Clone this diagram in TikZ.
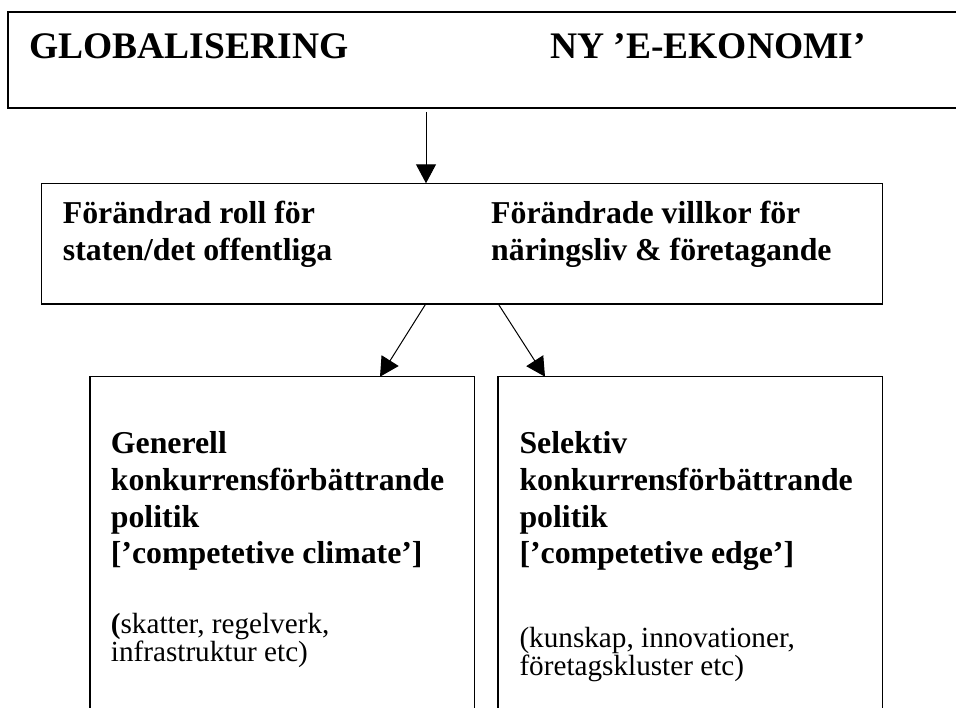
\documentclass[tikz,border=0pt]{standalone}
\usepackage{fontspec}
\setmainfont{Liberation Serif}
\usetikzlibrary{arrows.meta}
\tikzset{
  box/.style={draw=black, line width=1.1pt, rectangle, inner sep=0pt, outer sep=0pt, anchor=north west},
  arr/.style={draw=black, line width=1pt, -{Triangle[length=19pt,width=20pt]}},
  big/.style={anchor=base west, inner sep=0pt, font=\fontsize{37.5}{40}\selectfont\bfseries},
  mid/.style={anchor=base west, inner sep=0pt, font=\fontsize{31.8}{36}\selectfont\bfseries},
  reg/.style={anchor=base west, inner sep=0pt, font=\fontsize{29.2}{30}\selectfont},
}
\begin{document}
\begin{tikzpicture}[x=1pt,y=-1pt]
\useasboundingbox (0,0) rectangle (956,708);
\fill[white] (0,0) rectangle (956,708);
\clip (0,0) rectangle (956,708);
% boxes
\node[box, minimum width=972pt, minimum height=96pt] (top) at (8,12) {};
\node[box, minimum width=841pt, minimum height=120.7pt] (midbox) at (41.7,183.3) {};
\node[box, minimum width=384.3pt, minimum height=360pt] (lbox) at (90,376.7) {};
\node[box, minimum width=384.3pt, minimum height=360pt] (rbox) at (498,376.7) {};
% texts
\node[big] (t1) at (29.3,58.3) {GLOBALISERING};
\node[big] (t2) at (550,58.3) {NY ’E-EKONOMI’};
\node[mid] (m1) at (62.7,224) {Förändrad roll för};
\node[mid] (m2) at (62.7,261) {staten/det offentliga};
\node[mid] (m3) at (491,224) {Förändrade villkor för};
\node[mid] (m4) at (491,261) {näringsliv \& företagande};
\node[mid] (l1) at (110.7,453.3) {Generell};
\node[mid] (l2) at (110.7,490.3) {konkurrensförbättrande};
\node[mid] (l3) at (110.7,527) {politik};
\node[mid] (l4) at (110.7,563.7) {[’competetive climate’]};
\node[reg] (l5) at (110.7,633.3) {\textbf{(}skatter, regelverk,};
\node[reg] (l6) at (110.7,661.5) {infrastruktur etc)};
\node[mid] (r1) at (519.3,453.3) {Selektiv};
\node[mid] (r2) at (519.3,490.3) {konkurrensförbättrande};
\node[mid] (r3) at (519.3,527) {politik};
\node[mid] (r4) at (519.3,563.7) {[’competetive edge’]};
\node[reg] (r5) at (519.3,647) {(kunskap, innovationer,};
\node[reg] (r6) at (519.3,675.5) {företagskluster etc)};
% connectors
\draw[arr] ([xshift=418pt,yshift=-4pt]top.south west) -- ([xshift=384.3pt]midbox.north west);
\draw[arr] ([xshift=384pt]midbox.south west) -- ([xshift=290pt]lbox.north west);
\draw[arr] ([xshift=456.6pt]midbox.south west) -- ([xshift=47pt]rbox.north west);
\end{tikzpicture}
\end{document}
